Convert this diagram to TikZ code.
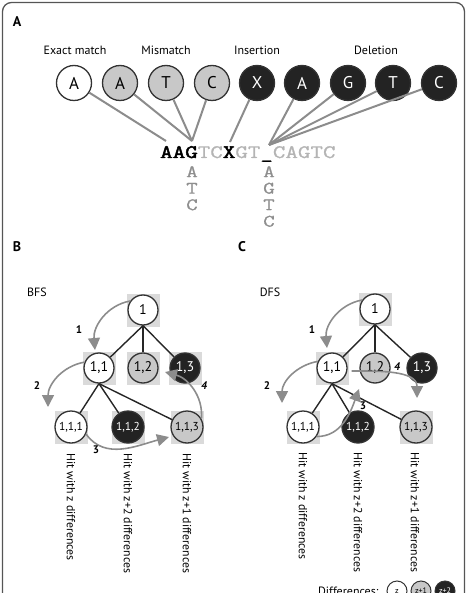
\documentclass[tikz,border=0pt]{standalone}
\usepackage{fontspec}
\setmainfont{PT Sans}
\newfontfamily\seqfont[FakeStretch=1.28, FakeBold=1]{Latin Modern Mono}
\newfontfamily\seqbold[FakeStretch=1.28, FakeBold=2.5]{Latin Modern Mono}
\usepackage{xcolor}
\usetikzlibrary{arrows.meta}
\definecolor{rimgray}{HTML}{333333}
\definecolor{lgray}{HTML}{C8C8C8}
\definecolor{dgray}{HTML}{232323}
\definecolor{linkgray}{HTML}{8C8C8C}
\definecolor{sqgray}{HTML}{DADADA}
\definecolor{seqgray}{HTML}{B4B4B4}
\definecolor{colgray}{HTML}{8E8E8E}
\definecolor{framegray}{HTML}{555555}

\begin{document}
\begin{tikzpicture}[x=1pt, y=1pt,
  dot/.style={circle, draw=rimgray, line width=1.3pt, inner sep=0pt},
  dzero/.style={dot, fill=white},
  done/.style={dot, fill=lgray},
  dtwo/.style={dot, fill=dgray, text=white},
  rowc/.style={minimum size=35pt, font=\fontsize{17}{17}\selectfont},
  lvl/.style={minimum size=30pt, font=\fontsize{14}{14}\selectfont},
  leaf/.style={minimum size=32pt, font=\fontsize{11.5}{11.5}\selectfont},
  keyc/.style={minimum size=20pt, line width=1pt, font=\fontsize{8}{8}\selectfont},
  link/.style={linkgray, line width=2pt},
  tree/.style={black!85, line width=1.4pt},
  arr/.style={linkgray, line width=1.6pt, -{Triangle[length=12pt,width=12pt]}},
  num/.style={font=\bfseries\fontsize{11}{11}\selectfont},
  hit/.style={rotate=-90, anchor=west, inner sep=0pt, font=\fontsize{11.8}{11.8}\selectfont},
  panel/.style={font=\bfseries\fontsize{14}{14}\selectfont},
  kind/.style={font=\fontsize{12}{12}\selectfont},
  seqtxt/.style={inner sep=0pt, font=\seqfont\fontsize{19}{19}\selectfont},
  coltxt/.style={inner sep=0pt, align=center, colgray, font=\seqfont\fontsize{17.5}{16.5}\selectfont}]
\useasboundingbox (0,0) rectangle (467,-593);
\clip (0,0) rectangle (467,-593);
\draw[framegray, line width=1.3pt, rounded corners=9pt] (2.5,-2.5) rectangle (464.5,-640);

% panel A
\node[panel] (pa) at (17,-22) {A};
\node[kind] (lexact) at (75,-50) {Exact match};
\node[kind] (lmis) at (166,-50) {Mismatch};
\node[kind] (lins) at (257,-50) {Insertion};
\node[kind] (ldel) at (376,-50) {Deletion};

\node[dzero, rowc] (ca) at (74,-83) {A};
\node[done, rowc] (cb) at (120,-83) {A};
\node[done, rowc] (cc) at (166,-83) {T};
\node[done, rowc] (cd) at (212,-83) {C};
\node[dtwo, rowc] (ce) at (257,-83) {X};
\node[dtwo, rowc] (cf) at (302,-83) {A};
\node[dtwo, rowc] (cg) at (348,-83) {G};
\node[dtwo, rowc] (ch) at (393,-83) {T};
\node[dtwo, rowc] (ci) at (439,-83) {C};

\node[seqtxt, anchor=base west] (read) at (160,-158)
  {{\seqbold AAG}{\color{seqgray}TC}{\seqbold X}{\color{seqgray}GT}\_{\color{seqgray}CAGTC}};
\node[coltxt, anchor=north] (colg) at (192,-166) {A\\T\\C};
\node[coltxt, anchor=north] (coldel) at (269,-166) {A\\G\\T\\C};

\coordinate (pfirst) at (166,-141);
\coordinate (pg) at (192,-141);
\coordinate (px) at (230,-142);
\coordinate (pgap) at (269,-145);
\draw[link] (ca) -- (pfirst);
\draw[link] (cb) -- (pg);
\draw[link] (cc) -- (pg);
\draw[link] (cd) -- (pg);
\draw[link] (ce) -- (px);
\draw[link] (cf) -- (pgap);
\draw[link] (cg) -- (pgap);
\draw[link] (ch) -- (pgap);
\draw[link] (ci) -- (pgap);

% panels B and C
\node[panel] (pb) at (17,-247) {B};
\node[panel] (pc) at (242,-247) {C};
\node[kind] (lbfs) at (37,-292) {BFS};
\node[kind] (ldfs) at (270,-292) {DFS};

\foreach \x/\y in {143/310, 99/368, 143/368, 185/368, 71/427, 128/427, 187/427,
                   375/309, 332/368, 303/427, 416/427}
  \fill[sqgray] (\x-16.5,-\y-16.5) rectangle ++(33,33);

\node[dzero, lvl] (b1) at (143,-310) {1};
\node[dzero, lvl] (b11) at (99,-368) {1,1};
\node[done, lvl] (b12) at (143,-368) {1,2};
\node[dtwo, lvl] (b13) at (185,-368) {1,3};
\node[dzero, leaf] (b111) at (71,-427) {1,1,1};
\node[dtwo, leaf] (b112) at (128,-427) {1,1,2};
\node[done, leaf] (b113) at (187,-427) {1,1,3};
\draw[tree] (b1.south) -- (b11);
\draw[tree] (b1.south) -- (b12);
\draw[tree] (b1.south) -- (b13);
\draw[tree] (b11.south) -- (b111);
\draw[tree] (b11.south) -- (b112);
\draw[tree] (b11.south) -- (b113);

\node[dzero, lvl] (d1) at (375,-309) {1};
\node[dzero, lvl] (d11) at (332,-368) {1,1};
\node[done, lvl] (d12) at (375,-368) {1,2};
\node[dtwo, lvl] (d13) at (422,-368) {1,3};
\node[dzero, leaf] (d111) at (303,-427) {1,1,1};
\node[dtwo, leaf] (d112) at (358,-427) {1,1,2};
\node[done, leaf] (d113) at (416,-427) {1,1,3};
\draw[tree] (d1.south) -- (d11);
\draw[tree] (d1.south) -- (d12);
\draw[tree] (d1.south) -- (d13);
\draw[tree] (d11.south) -- (d111);
\draw[tree] (d11.south) -- (d112);
\draw[tree] (d11.south) -- (d113);

\coordinate (bt1) at (95,-350);
\coordinate (bt2) at (48,-407);
\coordinate (bt3) at (169,-437);
\coordinate (bt4) at (165,-372);
\draw[arr] (b1.145) to[out=190, in=95] (bt1);
\draw[arr] (b11.158) to[out=190, in=90] (bt2);
\draw[arr] (b111.-25) to[out=-55, in=195] (bt3);
\draw[arr] (b113.30) to[out=85, in=-15] (bt4);
\node[num] (bn1) at (79,-330) {1};
\node[num] (bn2) at (37,-386) {2};
\node[num] (bn3) at (96,-450) {3};
\node[num] (bn4) at (204,-386) {\itshape 4};

\coordinate (dt1) at (327,-348);
\coordinate (dt2) at (282,-403);
\coordinate (dt3) at (359,-389);
\coordinate (dt4) at (417,-398);
\draw[arr] (d1.145) to[out=190, in=95] (dt1);
\draw[arr] (d11.155) to[out=190, in=90] (dt2);
\draw[arr] (d111.-35) to[out=0, in=250] (dt3);
\draw[arr] ([xshift=4pt,yshift=-3pt]d11.east) to[out=0, in=90] (dt4);
\node[num] (dn1) at (312,-330) {1};
\node[num] (dn2) at (267,-386) {2};
\node[num] (dn3) at (363,-406) {3};
\node[num] (dn4) at (397,-367) {\itshape 4};

\node[hit] (bh1) at (71,-453) {Hit with z differences};
\node[hit] (bh2) at (128,-453) {Hit with z+2 differences};
\node[hit] (bh3) at (187,-453) {Hit with z+1 differences};
\node[hit] (dh1) at (303,-452) {Hit with z differences};
\node[hit] (dh2) at (358,-452) {Hit with z+2 differences};
\node[hit] (dh3) at (415,-452) {Hit with z+1 differences};

% legend
\node[kind, anchor=east] (ldiff) at (382,-591) {Differences:};
\node[dzero, keyc] (kz) at (397,-591) {z};
\node[done, keyc] (kz1) at (421,-591) {z+1};
\node[dtwo, keyc] (kz2) at (445,-591) {z+2};
\end{tikzpicture}
\end{document}
